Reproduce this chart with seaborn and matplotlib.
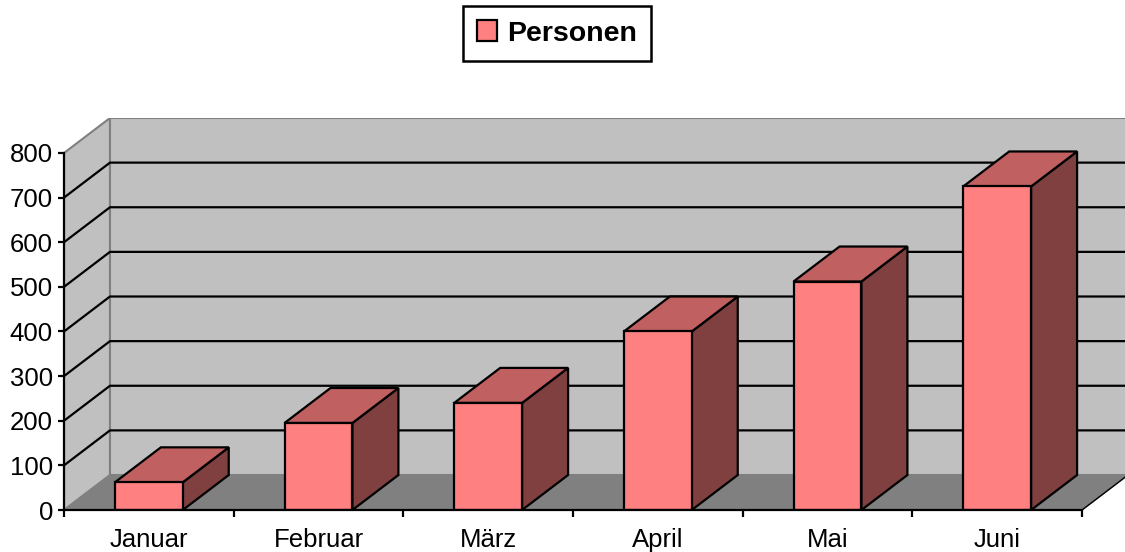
import matplotlib
matplotlib.use("Agg")
import matplotlib.pyplot as plt
from matplotlib.patches import Polygon, Patch
import numpy as np
import seaborn as sns

months = ["Januar", "Februar", "März", "April", "Mai", "Juni"]
personen = [62, 195, 240, 400, 512, 725]
series_name = "Personen"

front_col = "#FF8080"
top_col = "#C06060"
side_col = "#804040"
wall_col = "#C0C0C0"
floor_col = "#808080"

# depth offset of the fake 3d box (category units / value units)
DX = 0.271
DY = 78.4
YMAX = 800
LW = 1.6

sns.set_theme(style="white")
plt.rcParams["font.family"] = ["Liberation Sans", "DejaVu Sans"]
plt.rcParams["text.color"] = "black"
plt.rcParams["xtick.color"] = "black"
plt.rcParams["ytick.color"] = "black"
plt.rcParams["xtick.labelcolor"] = "black"
plt.rcParams["ytick.labelcolor"] = "black"

fig = plt.figure(figsize=(11.25, 5.52), dpi=100)
ax = fig.add_axes([64 / 1125, 42 / 552, 1061 / 1125, 392 / 552])

sns.barplot(x=months, y=personen, color=front_col, width=0.4, saturation=1,
            edgecolor="black", linewidth=LW, zorder=3, ax=ax)
bars = list(ax.patches)

# walls and floor
x_left = -0.5
x_right = len(months) - 0.5
ax.add_patch(Polygon([(x_left, 0), (x_left, YMAX), (x_left + DX, YMAX + DY), (x_left + DX, DY)],
                     fc=wall_col, ec=floor_col, lw=1.5, zorder=0))
ax.add_patch(Polygon([(x_left + DX, DY), (x_left + DX, YMAX + DY), (x_right + 2, YMAX + DY), (x_right + 2, DY)],
                     fc=wall_col, ec=floor_col, lw=1.5, zorder=0))
ax.add_patch(Polygon([(x_left, 0), (x_right, 0), (x_right + DX, DY), (x_left + DX, DY)],
                     fc=floor_col, ec=floor_col, lw=1, zorder=0.5))
for v in range(100, YMAX, 100):
    ax.plot([x_left, x_left + DX, x_right + 2], [v, v + DY, v + DY], color="black", lw=LW, zorder=1)
ax.plot([x_right, x_right + DX], [0, DY], color="black", lw=1, zorder=1)

# tops and sides of the bars
for bar in bars:
    x0, w, h = bar.get_x(), bar.get_width(), bar.get_height()
    ax.add_patch(Polygon([(x0 + w, 0), (x0 + w, h), (x0 + w + DX, h + DY), (x0 + w + DX, DY)],
                         fc=side_col, ec="black", lw=LW, zorder=2.5))
    ax.add_patch(Polygon([(x0, h), (x0 + w, h), (x0 + w + DX, h + DY), (x0 + DX, h + DY)],
                         fc=top_col, ec="black", lw=LW, zorder=2.5))

ax.set_xlim(x_left, x_right + 43 / 169.67)
ax.set_ylim(0, 878.4)

for s in ["top", "right"]:
    ax.spines[s].set_visible(False)
ax.spines["left"].set_bounds(0, YMAX)
ax.spines["bottom"].set_bounds(x_left, x_right)
for s in ["left", "bottom"]:
    ax.spines[s].set_color("black")
    ax.spines[s].set_linewidth(LW)
    ax.spines[s].set_zorder(4)

ax.set_yticks(range(0, YMAX + 1, 100))
ax.tick_params(axis="y", direction="out", length=4.5, width=LW, color="black",
               labelsize=18.5, labelcolor="black", pad=3.5, left=True)
ax.set_xticks(range(len(months)))
ax.set_xticklabels(months)
ax.set_xticks(np.arange(x_left, x_right + 0.1, 1), minor=True)
ax.tick_params(axis="x", which="major", length=0, labelsize=18.5, labelcolor="black", pad=13)
ax.tick_params(axis="x", which="minor", direction="out", length=5, width=LW,
               color="black", bottom=True)
ax.set_xlabel("")
ax.set_ylabel("")

handle = Patch(fc=front_col, ec="black", lw=LW)
leg = fig.legend([handle], [series_name], loc="center",
                 bbox_to_anchor=(557 / 1125, 1 - 33.5 / 552),
                 prop={"weight": "bold", "size": 20.5}, frameon=True, fancybox=False,
                 edgecolor="black", framealpha=1, handlelength=0.72, handleheight=0.72,
                 handletextpad=0.35, borderpad=0.5, labelcolor="black")
leg.get_frame().set_linewidth(1.8)

fig.savefig("out.png", dpi=100)
